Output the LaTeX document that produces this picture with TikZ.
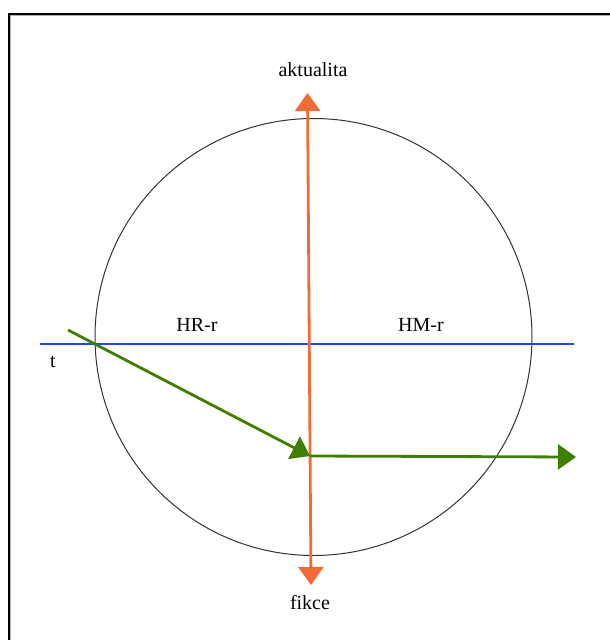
\documentclass[tikz,border=0pt]{standalone}
\usepackage{fontspec}
\setmainfont{Liberation Serif}
\usetikzlibrary{arrows.meta}
\definecolor{myorange}{HTML}{F26A35}
\definecolor{myblue}{HTML}{2444F0}
\definecolor{mygreen}{HTML}{3F7F00}
\tikzset{
  lbl/.style={font=\fontsize{20}{24}\selectfont, inner sep=0pt},
  bigtip/.style={-{Triangle[length=18pt,width=25pt]}},
}
\begin{document}
\begin{tikzpicture}[x=1pt,y=-1pt]
\useasboundingbox (0,0) rectangle (610,640);
% frame
\draw[gray!60, line width=1.2pt] (10.8,640) -- (10.8,15.3) -- (610,15.3);
\draw[black, line width=2pt] (9.2,640) -- (9.2,13.7) -- (610,13.7);
% circle
\node[draw=black!80, line width=1pt, circle, minimum size=437pt, inner sep=0pt] (c) at (313.5,337) {};
% blue line
\coordinate (bl) at (40,344);
\coordinate (br) at (574,344);
\draw[myblue, line width=2.8pt] (bl) -- (br);
% orange double arrow
\coordinate (otop) at (307.5,93);
\coordinate (obot) at (311,585);
\draw[myorange, line width=2.8pt, {Triangle[length=18pt,width=25pt]}-{Triangle[length=18pt,width=25pt]}] (obot) -- (otop);
% green arrows
\coordinate (g0) at (68,330);
\coordinate (gm) at (310,456);
\coordinate (gend) at (576,457);
\draw[mygreen, line width=2.8pt, bigtip] (g0) -- (gm);
\draw[mygreen, line width=2.8pt, bigtip] (gm) -- (gend);
% labels
\node[lbl] (akt) at (313,70) {aktualita};
\node[lbl] (fik) at (310,603) {fikce};
\node[lbl] (hr) at (197,325) {HR-r};
\node[lbl] (hm) at (421,325) {HM-r};
\node[lbl] (t) at (53,362) {t};
\end{tikzpicture}
\end{document}
